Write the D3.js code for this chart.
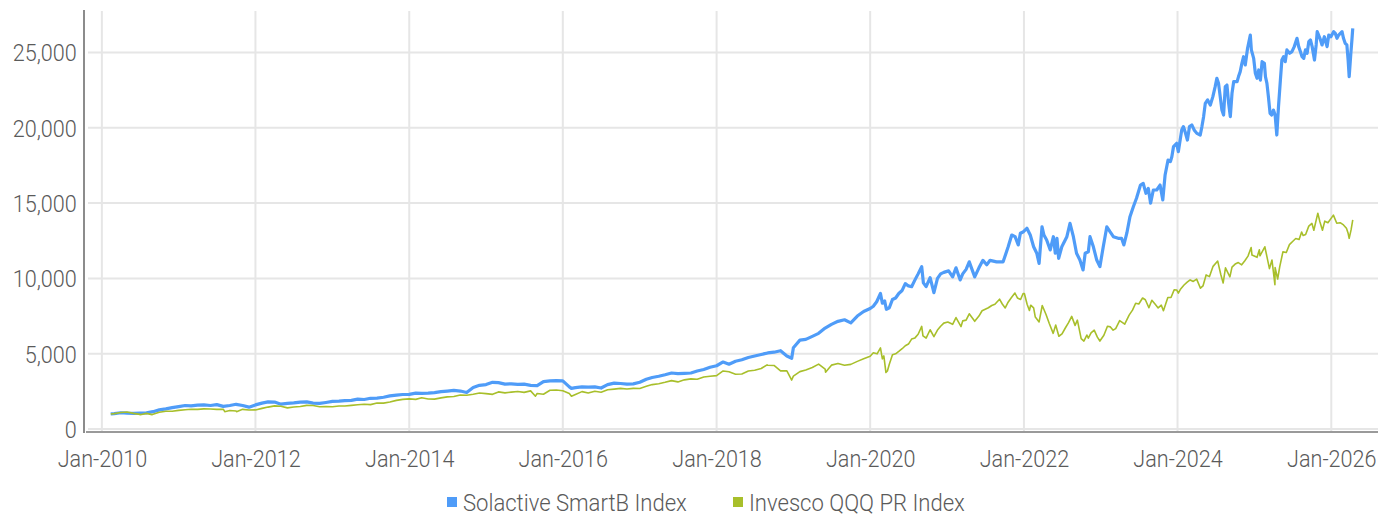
<!DOCTYPE html>
<html>
<head>
<meta charset="utf-8">
<script src="https://cdn.jsdelivr.net/npm/d3@7"></script>
<style>
  html, body { margin: 0; padding: 0; background: #ffffff; }
  svg { display: block; }
  text { font-family: Roboto, "Noto Sans", sans-serif; font-weight: 300; fill: #555; }
</style>
</head>
<body>
<svg id="chart" width="1391" height="517"></svg>
<script>
// ---------------- DATA ----------------
const seriesNames = ["Solactive SmartB Index", "Invesco QQQ PR Index"];
const seriesColors = ["#4f9cf8", "#a8bf2b"];

const yTicks = [0, 5000, 10000, 15000, 20000, 25000];

// monthly grid (first of month) 2010-2019
const months = [
  "2010-02-12","2010-03-01","2010-04-01","2010-05-01","2010-06-01","2010-07-01","2010-08-01","2010-09-01","2010-10-01","2010-11-01","2010-12-01",
  "2011-01-01","2011-02-01","2011-03-01","2011-04-01","2011-05-01","2011-06-01","2011-07-01","2011-08-01","2011-09-01","2011-10-01","2011-11-01","2011-12-01",
  "2012-01-01","2012-02-01","2012-03-01","2012-04-01","2012-05-01","2012-06-01","2012-07-01","2012-08-01","2012-09-01","2012-10-01","2012-11-01","2012-12-01",
  "2013-01-01","2013-02-01","2013-03-01","2013-04-01","2013-05-01","2013-06-01","2013-07-01","2013-08-01","2013-09-01","2013-10-01","2013-11-01","2013-12-01",
  "2014-01-01","2014-02-01","2014-03-01","2014-04-01","2014-05-01","2014-06-01","2014-07-01","2014-08-01","2014-09-01","2014-10-01","2014-11-01","2014-12-01",
  "2015-01-01","2015-02-01","2015-03-01","2015-04-01","2015-05-01","2015-06-01","2015-07-01","2015-08-01","2015-09-01","2015-10-01","2015-11-01","2015-12-01",
  "2016-01-01","2016-02-01","2016-03-01","2016-04-01","2016-05-01","2016-06-01","2016-07-01","2016-08-01","2016-09-01","2016-10-01","2016-11-01","2016-12-01",
  "2017-01-01","2017-02-01","2017-03-01","2017-04-01","2017-05-01","2017-06-01","2017-07-01","2017-08-01","2017-09-01","2017-10-01","2017-11-01","2017-12-01",
  "2018-01-01","2018-02-01","2018-03-01","2018-04-01","2018-05-01","2018-06-01","2018-07-01","2018-08-01","2018-09-01","2018-10-01","2018-11-01","2018-12-01",
  "2019-01-01","2019-02-01","2019-03-01","2019-04-01","2019-05-01","2019-06-01","2019-07-01","2019-08-01","2019-09-01","2019-10-01","2019-11-01","2019-12-01"
];

const solactiveMonthly = [
  1000,1020,1080,1050,1040,1060,1070,1150,1270,1340,1420,
  1490,1560,1540,1590,1600,1560,1620,1500,1560,1640,1560,1450,
  1600,1720,1800,1790,1650,1700,1730,1780,1800,1720,1700,1760,
  1830,1850,1880,1900,1980,1960,2040,2050,2110,2200,2250,2290,
  2300,2380,2360,2380,2420,2480,2520,2560,2520,2420,2750,2900,
  2950,3100,3080,2980,3000,2960,2980,2900,2880,3150,3200,3210,
  3200,2800,2750,2800,2780,2800,2720,2950,3050,3020,2980,3000,
  3100,3300,3420,3500,3600,3720,3680,3700,3720,3850,3950,4100,
  4200,4450,4300,4500,4600,4750,4850,4950,5050,5100,5200,4850,
  5400,5900,5950,6150,6350,6700,6950,7150,7250,7050,7500,7800
];

const invescoMonthly = [
  1000,1023,1095,1127,1039,970,1036,977,1116,1180,1177,
  1239,1277,1309,1305,1336,1332,1300,1316,1225,1193,1305,1257,
  1268,1370,1455,1534,1514,1402,1459,1491,1568,1559,1480,1486,
  1480,1523,1532,1566,1607,1648,1618,1727,1720,1793,1900,1966,
  2000,1966,2077,1993,1984,2068,2134,2159,2261,2245,2311,2386,
  2348,2300,2464,2400,2448,2495,2430,2530,2355,2311,2573,2591,
  2543,2355,2295,2482,2391,2511,2443,2602,2648,2698,2657,2698,
  2693,2832,2948,3009,3100,3211,3127,3264,3330,3305,3457,3505,
  3541,3855,3800,3640,3650,3850,3900,4015,4230,4220,3860,3860,
  3507,3810,3915,4085,4310,3980,4240,4355,4230,4290,4490,4665
];

// finer readings (extremes and 2020 onward)
const solactiveDates = [
  "2016-02-11","2018-12-24",
  "2020-01-01","2020-01-16","2020-02-01","2020-02-19","2020-02-28","2020-03-10","2020-03-18","2020-04-01","2020-04-16",
  "2020-05-01","2020-05-16","2020-06-01","2020-06-16","2020-07-01","2020-07-16","2020-08-01","2020-08-16","2020-09-02",
  "2020-09-10","2020-09-23","2020-10-12","2020-10-30","2020-11-16","2020-12-01","2020-12-16",
  "2021-01-08","2021-01-27","2021-02-12","2021-03-04","2021-03-16","2021-04-01","2021-04-16","2021-05-12","2021-06-01",
  "2021-06-20","2021-07-08","2021-07-24","2021-08-24","2021-09-24","2021-10-18","2021-11-04","2021-11-20","2021-12-05",
  "2021-12-15","2021-12-30",
  "2022-01-15","2022-01-31","2022-02-16","2022-03-03","2022-03-14","2022-03-28","2022-04-06","2022-04-19","2022-05-06",
  "2022-05-21","2022-05-30","2022-06-07","2022-06-15","2022-06-30","2022-07-24","2022-08-08","2022-08-24","2022-09-08",
  "2022-09-24","2022-10-09","2022-10-19","2022-11-03","2022-11-11","2022-11-27","2022-12-13","2022-12-28",
  "2023-01-13","2023-01-30","2023-02-14","2023-03-02","2023-03-25","2023-04-10","2023-04-21","2023-05-05","2023-05-20",
  "2023-06-05","2023-06-20","2023-07-09","2023-07-22","2023-08-04","2023-08-15","2023-08-26","2023-09-08","2023-09-24",
  "2023-10-10","2023-10-23","2023-11-03","2023-11-17","2023-11-28","2023-12-05","2023-12-13","2023-12-28",
  "2024-01-05","2024-01-21","2024-01-29","2024-02-06","2024-02-17","2024-02-27","2024-03-09","2024-03-20","2024-04-02",
  "2024-04-18","2024-04-26","2024-05-04","2024-05-12","2024-05-23","2024-06-05","2024-06-17","2024-06-28","2024-07-06",
  "2024-07-14","2024-07-22","2024-07-30","2024-08-07","2024-08-15","2024-08-23","2024-08-31","2024-09-08","2024-09-16",
  "2024-09-24","2024-10-10","2024-10-17","2024-10-25","2024-11-02","2024-11-10","2024-11-18","2024-11-29","2024-12-12",
  "2024-12-17","2024-12-28",
  "2025-01-05","2025-01-13","2025-01-21","2025-01-29","2025-02-06","2025-02-17","2025-02-22","2025-03-01","2025-03-08",
  "2025-03-16","2025-03-24","2025-04-01","2025-04-09","2025-04-17","2025-04-25","2025-05-04","2025-05-11","2025-05-19",
  "2025-05-27","2025-06-04","2025-06-17","2025-06-28","2025-07-09","2025-07-22","2025-07-30","2025-08-07","2025-08-15",
  "2025-08-23","2025-08-31","2025-09-08","2025-09-16","2025-09-24","2025-10-02","2025-10-13","2025-10-21","2025-10-26",
  "2025-11-08","2025-11-18","2025-11-29","2025-12-12","2025-12-20","2025-12-30",
  "2026-01-12","2026-01-20","2026-01-28","2026-02-05","2026-02-13","2026-02-21","2026-02-28","2026-03-08","2026-03-16",
  "2026-03-22","2026-03-27","2026-04-04","2026-04-09","2026-04-13"
];
const solactiveValues = [
  2700,4700,
  8000,8150,8450,9000,8350,8500,7950,8050,8600,
  8700,9000,9200,9650,9500,9450,9900,10300,10780,
  9700,9450,10050,9050,10000,10300,10400,
  10500,10100,10700,9900,10300,10600,11100,10100,10700,
  11200,10900,11200,11100,11100,12100,12880,12770,12220,
  13000,13100,
  13330,12880,12100,11670,11000,13430,12880,12550,11890,
  12770,11670,12660,11330,12100,12770,13660,12770,11670,
  11220,10560,11670,11770,12770,12100,11220,10780,
  12100,13430,13100,12770,12660,12660,12220,13000,14100,
  14760,15320,16200,16310,15650,15980,14990,15870,15870,
  16200,15210,16870,17860,17750,18080,18750,18970,
  18420,19860,20080,19740,19190,20080,20190,19860,19630,
  19520,20080,20740,21620,21850,21510,22070,22730,23290,
  22950,22070,21180,20850,22730,22840,21620,20740,22290,
  23060,23060,23400,23730,24280,24720,24170,25280,26160,
  25170,24610,
  23620,23290,23840,23170,24390,24280,23400,22950,22070,
  20960,20850,21180,20850,19520,21400,23170,24500,24720,
  24390,25170,24950,25060,25390,25940,25390,25060,24720,
  24610,25170,24950,25720,25830,25390,24500,25500,26380,
  25940,25500,26050,25390,26160,26050,
  26380,26270,25940,26160,26270,26380,25940,25610,25500,
  24500,23400,24950,25830,26600
];

const invescoDates = [
  "2010-07-02","2010-08-27","2011-08-08","2011-10-03","2015-08-24","2016-02-11","2018-08-29","2018-12-24","2019-06-03",
  "2020-01-01","2020-01-16","2020-02-03","2020-02-19","2020-02-28","2020-03-06","2020-03-16","2020-03-23","2020-04-01",
  "2020-04-16","2020-05-01","2020-05-16","2020-06-01","2020-06-16","2020-07-01","2020-07-16","2020-08-01","2020-08-16",
  "2020-09-02","2020-09-08","2020-09-23","2020-10-12","2020-10-30","2020-11-16","2020-12-01","2020-12-16",
  "2021-01-04","2021-01-27","2021-02-12","2021-03-08","2021-03-16","2021-04-01","2021-04-16","2021-05-12","2021-06-01",
  "2021-06-16","2021-07-01","2021-07-16","2021-08-01","2021-08-16","2021-09-07","2021-09-20","2021-10-04","2021-10-16",
  "2021-11-01","2021-11-19","2021-12-01","2021-12-16","2021-12-28",
  "2022-01-03","2022-01-16","2022-01-27","2022-02-02","2022-02-16","2022-02-24","2022-03-14","2022-03-29","2022-04-16",
  "2022-05-01","2022-05-20","2022-06-01","2022-06-16","2022-07-01","2022-07-16","2022-08-01","2022-08-16","2022-09-01",
  "2022-09-12","2022-09-30","2022-10-13","2022-10-27","2022-11-03","2022-11-16","2022-12-01","2022-12-16","2022-12-28",
  "2023-01-16","2023-02-02","2023-02-16","2023-03-01","2023-03-13","2023-04-01","2023-04-25","2023-05-16","2023-06-01",
  "2023-06-16","2023-07-01","2023-07-19","2023-08-01","2023-08-18","2023-09-01","2023-09-16","2023-10-01","2023-10-16",
  "2023-10-26","2023-11-16","2023-12-01","2023-12-16","2023-12-28",
  "2024-01-05","2024-01-16","2024-02-01","2024-02-16","2024-03-01","2024-03-16","2024-04-01","2024-04-19","2024-05-01",
  "2024-05-16","2024-06-01","2024-06-18","2024-07-10","2024-07-25","2024-08-05","2024-08-16","2024-09-06","2024-09-16",
  "2024-10-01","2024-10-16","2024-11-01","2024-11-16","2024-12-01","2024-12-16","2024-12-20",
  "2025-01-13","2025-01-24","2025-01-27","2025-02-19","2025-03-01","2025-03-13","2025-03-25","2025-04-08","2025-04-09",
  "2025-04-21","2025-05-01","2025-05-16","2025-06-01","2025-06-16","2025-07-01","2025-07-16","2025-08-01","2025-08-13",
  "2025-08-20","2025-09-01","2025-09-16","2025-10-01","2025-10-10","2025-10-29","2025-11-07","2025-11-20","2025-12-01",
  "2025-12-16","2026-01-11","2026-01-27","2026-02-12","2026-02-28","2026-03-14","2026-03-22","2026-03-27","2026-04-05",
  "2026-04-13"
];
const invescoValues = [
  950,955,1150,1150,2180,2180,4260,3250,3770,
  4830,5060,4990,5390,4660,4850,3750,3850,4300,
  4930,4990,5150,5330,5530,5640,5970,6050,6290,
  6810,6180,6040,6590,6130,6570,6820,7030,
  7100,6950,7400,6800,7180,7230,7650,7150,7500,
  7850,7950,8050,8200,8280,8620,8300,8040,8380,
  8700,9030,8700,8600,9000,
  9000,8280,7870,8220,8040,7430,7110,8200,7600,
  7020,6350,6900,6160,6310,6690,7060,7480,6880,
  7230,6000,5840,6240,6030,6380,6560,6100,5840,
  6220,6820,6780,6560,6670,7200,6960,7560,7890,
  8350,8300,8700,8580,8050,8550,8300,8040,8220,
  7850,8730,8730,9240,9230,
  9020,9300,9560,9750,9900,9800,9950,9350,9500,
  10230,10120,10800,11150,10240,9700,10700,10100,10750,
  10950,11050,10900,11170,11480,12050,11550,
  11400,11900,11500,12100,11450,10650,11220,9580,10720,
  9960,10780,11760,11720,12240,12450,12650,12580,13080,
  12850,12920,13470,13650,13200,14330,13800,13200,13800,
  13700,14200,13660,13700,13550,13330,12990,12660,13220,
  13880
];

// ---------------- CHART ----------------
const svg = d3.select("#chart");
const parse = d3.timeParse("%Y-%m-%d");

function build(dates, values, mDates, mValues) {
  const pts = mDates.map((d, i) => ({ date: parse(d), value: mValues[i] }))
    .concat(dates.map((d, i) => ({ date: parse(d), value: values[i] })));
  pts.sort((a, b) => a.date - b.date);
  return pts;
}
const seriesData = [
  build(solactiveDates, solactiveValues, months, solactiveMonthly),
  build(invescoDates, invescoValues, months, invescoMonthly)
];

const x = d3.scaleTime()
  .domain([parse("2009-10-27"), parse("2026-08-11")])
  .range([88, 1378]);
const y = d3.scaleLinear()
  .domain([0, 27822])
  .range([429, 10]);

const xTicks = d3.timeYear.every(2).range(parse("2010-01-01"), parse("2026-06-01"));

// grid lines
const grid = svg.append("g");
grid.selectAll("line.h").data(yTicks).join("line")
  .attr("x1", 88).attr("x2", 1378)
  .attr("y1", d => y(d)).attr("y2", d => y(d))
  .attr("stroke", "#e6e6e6").attr("stroke-width", 2);
grid.selectAll("line.v").data(xTicks).join("line")
  .attr("x1", d => x(d)).attr("x2", d => x(d))
  .attr("y1", 11).attr("y2", 431)
  .attr("stroke", "#e6e6e6").attr("stroke-width", 2);

const labelStyle = sel => sel
  .style("font-size", "24px").style("font-family", "Roboto")
  .style("font-weight", 300).style("fill", "#5a5a5a");

// y axis
const yAxis = svg.append("g").attr("transform", "translate(84,0)")
  .call(d3.axisLeft(y).tickValues(yTicks).tickFormat(d3.format(",")).tickSize(0).tickPadding(0));
yAxis.select(".domain").remove();
yAxis.selectAll("text")
  .attr("x", -8).attr("dy", "0.35em")
  .attr("transform", "scale(0.9,1)")
  .call(labelStyle);
svg.append("line").attr("x1", 84).attr("x2", 84).attr("y1", 10).attr("y2", 433)
  .attr("stroke", "#8c8c8c").attr("stroke-width", 2);

// x axis
const xAxis = svg.append("g").attr("transform", "translate(0,432)")
  .call(d3.axisBottom(x).tickValues(xTicks).tickFormat(d3.timeFormat("%b-%Y")).tickSize(0).tickPadding(0));
xAxis.select(".domain").remove();
xAxis.selectAll("text")
  .attr("x", 0).attr("y", 35).attr("dy", 0)
  .attr("transform", "scale(0.9,1)")
  .call(labelStyle);
svg.append("line").attr("x1", 86).attr("x2", 1378).attr("y1", 432).attr("y2", 432)
  .attr("stroke", "#9a9a9a").attr("stroke-width", 2);

// lines
const line = d3.line().x(d => x(d.date)).y(d => y(d.value)).curve(d3.curveLinear);
svg.append("path").datum(seriesData[0])
  .attr("fill", "none").attr("stroke", seriesColors[0]).attr("stroke-width", 3.2)
  .attr("stroke-linejoin", "round").attr("d", line);
svg.append("path").datum(seriesData[1])
  .attr("fill", "none").attr("stroke", seriesColors[1]).attr("stroke-width", 1.6)
  .attr("stroke-linejoin", "round").attr("d", line);

// legend
const legendPos = [447, 733];
const legendScale = 0.96;
const legend = svg.append("g");
seriesNames.forEach((name, i) => {
  legend.append("rect").attr("x", legendPos[i]).attr("y", 497).attr("width", 10).attr("height", 10)
    .attr("fill", seriesColors[i]);
  legend.append("text").attr("x", (legendPos[i] + 16) / legendScale).attr("y", 511)
    .attr("transform", `scale(${legendScale},1)`)
    .call(labelStyle)
    .style("font-size", "23px")
    .text(name);
});
</script>
</body>
</html>
